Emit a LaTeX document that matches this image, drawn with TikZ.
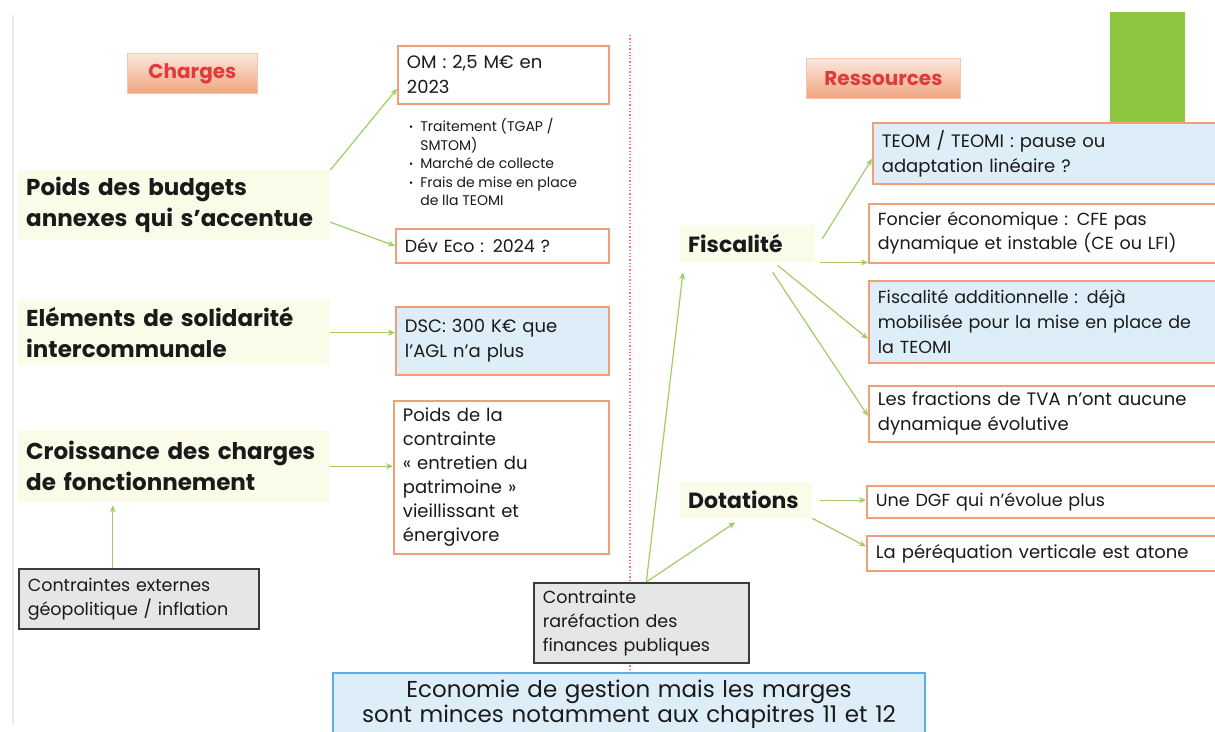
\documentclass[tikz,border=0pt]{standalone}
\usepackage{fontspec}
\setmainfont{Poppins}
\usetikzlibrary{arrows.meta,calc}
\definecolor{orb}{HTML}{EFA078}
\definecolor{lblue}{HTML}{DDEEF8}
\definecolor{bblue}{HTML}{5AB0E4}
\definecolor{gfill}{HTML}{E4E6E8}
\definecolor{gdraw}{HTML}{3C3C3C}
\definecolor{arrg}{HTML}{9FCF63}
\definecolor{hbg}{HTML}{FAFBE8}
\definecolor{redt}{HTML}{E03A3A}
\definecolor{gbar}{HTML}{8DC63F}
\definecolor{txt}{HTML}{1A1A1A}
\begin{document}
\begin{tikzpicture}[x=1pt,y=-1pt,
  every node/.style={text=txt},
  ob/.style={draw=orb, line width=1.8pt, fill=white, anchor=north west, align=left, inner xsep=9pt, inner ysep=0pt},
  bb/.style={ob, fill=lblue},
  gb/.style={draw=gdraw, line width=1.6pt, fill=gfill, anchor=north west, align=left, inner xsep=9pt, inner ysep=0pt},
  head/.style={fill=hbg, anchor=north west, align=left, inner xsep=8pt, inner ysep=0pt, font=\bfseries\fontsize{23}{31}\selectfont},
  title/.style={draw=orb!60, line width=0.8pt, top color=orb!25, bottom color=orb!95, anchor=north west, inner sep=0pt, text=redt, font=\bfseries\fontsize{20}{24}\selectfont},
  arr/.style={draw=arrg, line width=1.2pt, -{Stealth[length=7pt,width=6pt]}},
  mid/.style={font=\fontsize{18}{25}\selectfont},
  sm/.style={font=\fontsize{17.5}{24}\selectfont}
]
\useasboundingbox (0,0) rectangle (1215,731);
\clip (0,0) rectangle (1215,731);
\fill[white] (0,0) rectangle (1215,731);
% slide edge
\draw[black!8, line width=2pt] (13,15) -- (13,725);
% separator
\draw[red!55, dotted, line width=1.3pt] (630,35) -- (630,672);
% green bar
\fill[gbar] (1110,12) rectangle (1185,122);

% titles
\node[title, minimum width=130pt, minimum height=40pt] (charges) at (127,53) {Charges};
\node[title, minimum width=154pt, minimum height=40pt] (ress) at (806,58) {Ressources};

% left headings
\node[head, text width=296pt, minimum height=70pt] (poids) at (18,170) {Poids des budgets\\annexes qui s’accentue};
\node[head, text width=296pt, minimum height=65pt] (sol) at (18,300) {Eléments de solidarité\\intercommunale};
\node[head, text width=296pt, minimum height=72pt] (croiss) at (18,430) {Croissance des charges\\de fonctionnement};

% middle boxes
\node[ob, mid, text width=193pt, minimum height=58pt] (om) at (397,45) {OM : 2,5 M€ en\\2023};
\node[anchor=north west, inner sep=0pt, font=\fontsize{14}{18.5}\selectfont] (list) at (409,118)
 {\begin{tabular}{@{}l@{\hspace{7pt}}l@{}}
  \raisebox{1pt}{\fontsize{10}{10}\selectfont•} & Traitement (TGAP /\\
   & SMTOM)\\
  \raisebox{1pt}{\fontsize{10}{10}\selectfont•} & Marché de collecte\\
  \raisebox{1pt}{\fontsize{10}{10}\selectfont•} & Frais de mise en place\\
   & de lla TEOMI
  \end{tabular}};
\node[ob, sm, text width=195pt, minimum height=34pt] (dev) at (395,228) {Dév Eco : 2024 ?};
\node[bb, mid, text width=195pt, minimum height=68pt] (dsc) at (395,306) {DSC: 300 K€ que\\l’AGL n’a plus};
\node[ob, mid, text width=197pt, minimum height=153pt, font=\fontsize{18}{24}\selectfont] (pc) at (393,400) {Poids de la\\contrainte\\« entretien du\\patrimoine »\\vieillissant et\\énergivore};

% gray boxes
\node[gb, sm, text width=222pt, minimum height=60pt] (ext) at (18,568) {Contraintes externes\\géopolitique / inflation};
\node[gb, sm, text width=197pt, minimum height=80pt] (rar) at (533,582) {Contrainte\\raréfaction des\\finances publiques};

% right side
\node[head, text width=119pt, minimum height=37pt, font=\bfseries\fontsize{22}{28}\selectfont] (fisc) at (680,225) {Fiscalité};
\node[head, text width=116pt, minimum height=36pt, font=\bfseries\fontsize{22}{28}\selectfont] (dot) at (680,482) {Dotations};

\node[bb, mid, text width=342pt, minimum height=61pt] (teom) at (872,122) {TEOM / TEOMI : pause ou\\adaptation linéaire ?};
\node[ob, sm, text width=346pt, minimum height=59pt] (fon) at (868,203) {Foncier économique : CFE pas\\dynamique et instable (CE ou LFI)};
\node[bb, sm, text width=346pt, minimum height=82pt, font=\fontsize{17.5}{25}\selectfont] (add) at (868,280) {Fiscalité additionnelle : déjà\\mobilisée pour la mise en place de\\la TEOMI};
\node[ob, mid, text width=346pt, minimum height=56pt] (frac) at (868,385) {Les fractions de TVA n’ont aucune\\dynamique évolutive};
\node[ob, sm, text width=348pt, minimum height=32pt] (dgf) at (866,485) {Une DGF qui n’évolue plus};
\node[ob, mid, text width=348pt, minimum height=35pt] (per) at (866,535) {La péréquation verticale est atone};

% bottom box
\node[draw=bblue, line width=1.8pt, fill=lblue, anchor=north, align=center, text width=585pt, inner ysep=0pt, font=\fontsize{23}{25}\selectfont] (eco) at (629,672) {\rule{0pt}{25pt}Economie de gestion mais les marges\\sont minces notamment aux chapitres 11 et 12\rule[-30pt]{0pt}{30pt}};

% connectors
\draw[arr] (poids.north east) -- ([yshift=16pt]om.south west);
\draw[arr] ([yshift=-17pt]poids.east) -- (dev.west);
\draw[arr] (sol.east) -- (sol.east -| dsc.west);
\draw[arr] (croiss.east) -- (croiss.east -| pc.west);
\draw[arr] ([xshift=-26pt]ext.north) -- ([xshift=-26pt,yshift=-3pt]ext.north |- croiss.south);
\draw[arr] ([xshift=5pt]rar.north) -- ([xshift=3pt,yshift=-10pt]fisc.south west);
\draw[arr] ([xshift=5pt]rar.north) -- ([xshift=-11pt,yshift=-4pt]dot.south);
\draw[arr] ([xshift=7pt,yshift=5pt]fisc.east) -- ([yshift=26pt]teom.south west);
\draw[arr] ([xshift=5pt]fisc.south east) -- (fisc.south east -| fon.west);
\draw[arr] ([xshift=30pt,yshift=-3pt]fisc.south) -- ([yshift=-17pt]add.west);
\draw[arr] ([xshift=25pt,yshift=-10pt]fisc.south) -- ([yshift=-2pt]frac.west);
\draw[arr] ([xshift=8pt]dot.east) -- (dot.east -| dgf.west);
\draw[arr] (dot.south east) -- ([yshift=7pt]per.west);
\end{tikzpicture}
\end{document}
